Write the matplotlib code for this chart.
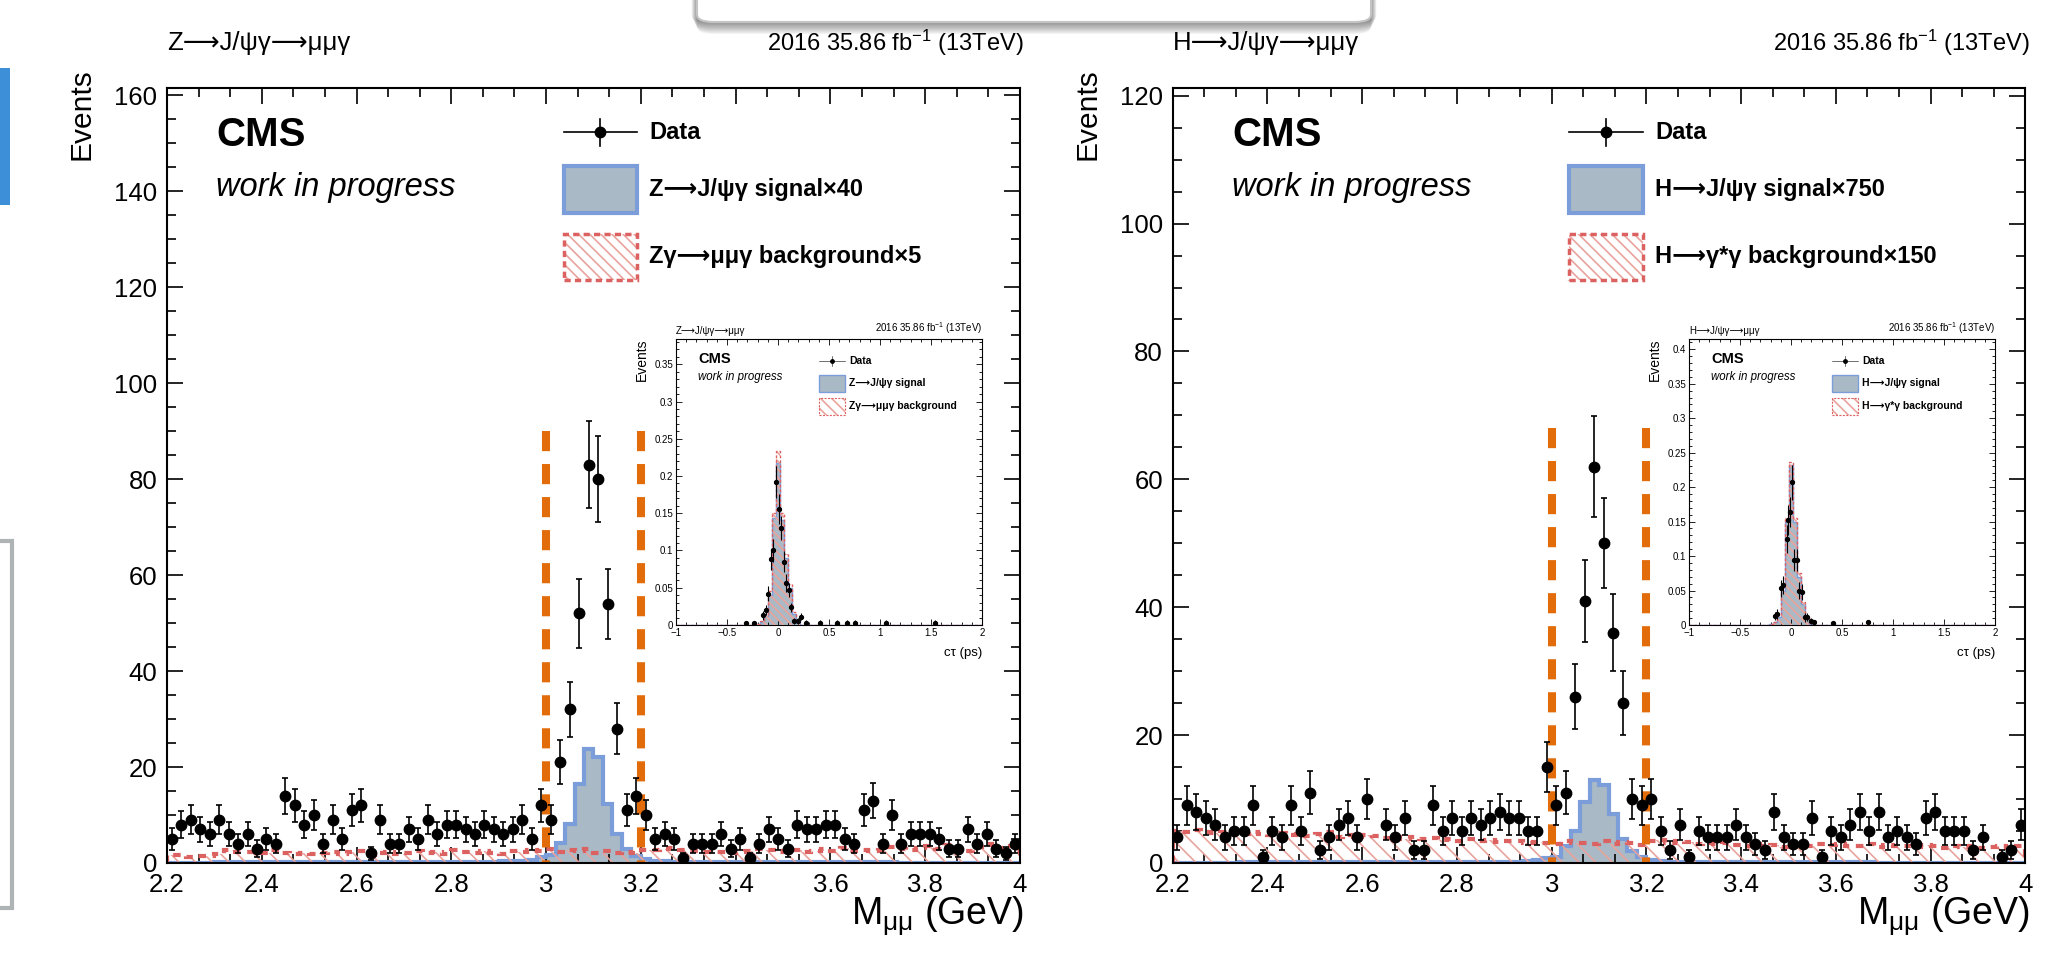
import numpy as np
import matplotlib
matplotlib.use("Agg")
import matplotlib.pyplot as plt
from matplotlib.patches import Rectangle, FancyBboxPatch
from matplotlib.ticker import MultipleLocator, AutoMinorLocator, FuncFormatter

plt.rcParams['font.family'] = ['Liberation Sans', 'DejaVu Sans']
plt.rcParams['mathtext.fontset'] = 'custom'
plt.rcParams['mathtext.rm'] = 'Liberation Sans'
plt.rcParams['mathtext.default'] = 'regular'
plt.rcParams['hatch.linewidth'] = 1.2

# mass histogram binning (GeV)
m_lo, m_hi, n_bins = 2.2, 4.0, 90
window = [3.0, 3.2]

# Z -> J/psi gamma panel
z_data = [5, 8, 9, 7, 6, 9, 6, 4, 6, 3,
          5, 4, 14, 12, 8, 10, 4, 9, 5, 11,
          12, 2, 9, 4, 4, 7, 5, 9, 6, 8,
          8, 7, 6, 8, 7, 6, 7, 9, 5, 12,
          9, 21, 32, 52, 83, 80, 54, 28, 11, 14,
          10, 5, 6, 5, 1, 4, 4, 4, 6, 3,
          5, 1, 4, 7, 5, 3, 8, 7, 7, 8,
          8, 5, 4, 11, 13, 4, 10, 4, 6, 6,
          6, 5, 3, 3, 7, 4, 6, 3, 2, 4]
z_sig = [0.08, 0.08, 0.09, 0.09, 0.09, 0.1, 0.1, 0.1, 0.1, 0.11,
         0.11, 0.11, 0.12, 0.12, 0.12, 0.12, 0.13, 0.13, 0.13, 0.14,
         0.14, 0.14, 0.15, 0.15, 0.15, 0.16, 0.16, 0.17, 0.17, 0.18,
         0.18, 0.2, 0.22, 0.25, 0.28, 0.32, 0.38, 0.5, 0.7, 1.2,
         1.6, 4.2, 8.2, 16.5, 23.8, 22.0, 12.3, 6.0, 2.9, 1.5,
         0.8, 0.5, 0.35, 0.28, 0.24, 0.2, 0.18, 0.17, 0.16, 0.15,
         0.15, 0.14, 0.14, 0.13, 0.13, 0.13, 0.12, 0.12, 0.12, 0.11,
         0.11, 0.11, 0.1, 0.1, 0.1, 0.1, 0.1, 0.09, 0.09, 0.09,
         0.09, 0.09, 0.08, 0.08, 0.08, 0.08, 0.08, 0.08, 0.07, 0.07]
z_bkg = [1.6, 1.7, 1.3, 1.4, 1.5, 1.8, 2.6, 2.3, 2.2, 2.3,
         2.0, 2.8, 2.1, 1.9, 2.0, 1.8, 2.1, 2.3, 1.9, 2.2,
         2.5, 1.7, 2.0, 2.3, 1.9, 2.1, 2.4, 2.0, 2.2, 1.9,
         2.6, 2.3, 2.0, 2.5, 2.1, 1.9, 2.4, 2.2, 2.6, 2.4,
         2.9, 2.3, 2.6, 2.4, 2.9, 2.0, 2.4, 2.1, 2.3, 2.0,
         2.6, 2.8, 2.9, 3.1, 2.6, 2.5, 2.3, 2.2, 2.3, 2.0,
         2.2, 2.5, 3.0, 2.8, 2.3, 2.4, 2.6, 2.2, 2.4, 3.0,
         2.5, 3.2, 2.4, 2.6, 2.5, 2.7, 3.3, 3.0, 2.6, 3.2,
         3.5, 3.0, 3.7, 2.8, 2.5, 3.4, 3.9, 3.2, 3.0, 3.6]

# H -> J/psi gamma panel
h_data = [4, 9, 8, 7, 6, 4, 5, 5, 9, 1,
          5, 4, 9, 5, 11, 2, 4, 6, 7, 4,
          10, 0, 6, 4, 7, 2, 2, 9, 5, 7,
          5, 7, 6, 7, 8, 7, 7, 5, 5, 15,
          9, 11, 26, 41, 62, 50, 36, 25, 10, 9,
          10, 5, 2, 6, 1, 5, 4, 4, 4, 6,
          4, 3, 2, 8, 4, 3, 3, 7, 1, 5,
          4, 6, 8, 5, 8, 4, 5, 4, 3, 7,
          8, 5, 5, 5, 2, 4, 0, 1, 2, 6]
h_sig = [0.06, 0.06, 0.06, 0.07, 0.07, 0.07, 0.07, 0.08, 0.08, 0.08,
         0.08, 0.08, 0.09, 0.09, 0.09, 0.09, 0.1, 0.1, 0.1, 0.1,
         0.1, 0.11, 0.11, 0.11, 0.11, 0.12, 0.12, 0.12, 0.13, 0.13,
         0.14, 0.14, 0.15, 0.16, 0.17, 0.19, 0.22, 0.3, 0.5, 0.7,
         1.0, 2.6, 5.0, 9.5, 13.0, 12.2, 7.6, 3.7, 1.8, 0.9,
         0.5, 0.3, 0.22, 0.18, 0.16, 0.14, 0.13, 0.12, 0.12, 0.11,
         0.11, 0.1, 0.1, 0.1, 0.1, 0.09, 0.09, 0.09, 0.09, 0.08,
         0.08, 0.08, 0.08, 0.08, 0.07, 0.07, 0.07, 0.07, 0.07, 0.07,
         0.06, 0.06, 0.06, 0.06, 0.06, 0.06, 0.06, 0.05, 0.05, 0.05]
h_bkg = [5.0, 4.8, 5.1, 4.9, 4.7, 4.8, 5.0, 4.6, 4.9, 4.5,
         4.4, 4.7, 4.3, 4.6, 4.2, 4.5, 4.8, 4.1, 4.4, 4.0,
         4.3, 4.2, 3.9, 4.0, 3.7, 4.1, 3.8, 3.9, 3.6, 3.7,
         3.5, 3.8, 3.4, 3.6, 3.3, 3.5, 3.4, 3.2, 3.3, 3.1,
         3.0, 3.4, 3.1, 3.2, 2.9, 3.5, 3.0, 3.3, 3.1, 2.8,
         3.4, 3.6, 3.2, 3.5, 3.3, 3.0, 3.2, 2.9, 3.1, 2.8,
         2.7, 3.0, 2.6, 2.8, 2.5, 2.9, 2.7, 2.6, 2.9, 2.8,
         3.0, 2.7, 2.6, 2.9, 2.5, 2.8, 2.7, 2.6, 2.5, 2.8,
         2.6, 2.4, 2.7, 2.5, 2.6, 2.3, 2.5, 2.6, 2.4, 2.7]

# inset: decay length c*tau (ps)
ct_edges = [-1.0, -0.22, -0.18, -0.14, -0.10, -0.06, -0.02, 0.02, 0.06,
            0.10, 0.14, 0.18, 0.22, 2.0]
zin_sig = [0, 0.001, 0.004, 0.012, 0.04, 0.143, 0.217, 0.141, 0.09, 0.05, 0.015, 0.003, 0]
zin_bkg = [0, 0.001, 0.005, 0.014, 0.045, 0.15, 0.233, 0.15, 0.095, 0.055, 0.018, 0.004, 0]
zin_ct = [-0.316, -0.24, -0.143, -0.12, -0.094, -0.068, -0.048, -0.019, 0.007, 0.03,
          0.06, 0.08, 0.106, 0.13, 0.158, 0.2, 0.23, 0.276, 0.41, 0.58, 0.68, 0.75,
          1.06, 1.54]
zin_val = [0.002, 0.002, 0.013, 0.02, 0.042, 0.088, 0.10, 0.192, 0.156, 0.13,
           0.085, 0.056, 0.047, 0.024, 0.005, 0.005, 0.011, 0.003, 0.003, 0.003,
           0.003, 0.003, 0.003, 0.003]
zin_err = [0.003, 0.003, 0.006, 0.007, 0.01, 0.014, 0.015, 0.022, 0.02, 0.016,
           0.014, 0.012, 0.01, 0.006, 0.004, 0.004, 0.005, 0.003, 0.003, 0.003,
           0.003, 0.003, 0.003, 0.003]
hin_sig = [0, 0.001, 0.004, 0.012, 0.05, 0.15, 0.232, 0.15, 0.07, 0.03, 0.01, 0.002, 0]
hin_bkg = [0, 0.001, 0.005, 0.014, 0.055, 0.155, 0.236, 0.155, 0.075, 0.033, 0.012, 0.003, 0]
hin_ct = [-0.157, -0.14, -0.095, -0.075, -0.042, -0.026, -0.01, 0.01, 0.033, 0.056,
          0.08, 0.105, 0.137, 0.16, 0.196, 0.222, 0.41, 0.758]
hin_val = [0.013, 0.016, 0.053, 0.058, 0.125, 0.152, 0.164, 0.207, 0.094, 0.094,
           0.05, 0.048, 0.011, 0.012, 0.006, 0.004, 0.003, 0.004]
hin_err = [0.006, 0.007, 0.012, 0.013, 0.02, 0.022, 0.022, 0.025, 0.016, 0.016,
           0.012, 0.012, 0.006, 0.006, 0.004, 0.003, 0.003, 0.003]

ARW = '\u27f6'
Z_TITLE = 'Z' + ARW + 'J/\u03c8\u03b3' + ARW + '\u03bc\u03bc\u03b3'
H_TITLE = 'H' + ARW + 'J/\u03c8\u03b3' + ARW + '\u03bc\u03bc\u03b3'
LUMI = '2016 35.86 fb$^{-1}$ (13TeV)'
SIG_FILL = '#a9b9c5'
SIG_LINE = '#7b9dda'
BKG_LINE = '#dc6161'
BKG_HATCH = '#e9a39d'
CUT = '#e26b0a'

edges = np.linspace(m_lo, m_hi, n_bins + 1)
centers = 0.5 * (edges[1:] + edges[:-1])


def fmt(v, pos):
    return ('%g' % round(v, 4)).replace('-', '\u2212')


def draw_legend(ax, x0, x1, ys, box_h, labels, fs, s):
    tr = ax.transAxes
    xm = 0.5 * (x0 + x1)
    y0, y1, y2 = ys
    ax.plot([x0, x1], [y0, y0], color='k', lw=1.2 * s, transform=tr, clip_on=False)
    ax.plot([xm, xm], [y0 - box_h * 0.29, y0 + box_h * 0.29], color='k', lw=1.2 * s,
            transform=tr, clip_on=False)
    ax.plot([xm], [y0], 'o', color='k', ms=7.5 * s, transform=tr, clip_on=False)
    ax.add_patch(Rectangle((x0, y1 - box_h / 2), x1 - x0, box_h, transform=tr,
                           fc=SIG_FILL, ec=SIG_LINE, lw=3 * s))
    ax.add_patch(Rectangle((x0, y2 - box_h / 2), x1 - x0, box_h, transform=tr,
                           fc='none', ec=BKG_HATCH, hatch='\\\\\\', lw=0))
    ax.add_patch(Rectangle((x0, y2 - box_h / 2), x1 - x0, box_h, transform=tr,
                           fill=False, ec=BKG_LINE, lw=2.5 * s, ls=(0, (1.8, 1.2))))
    xt = x1 + 0.17 * (x1 - x0)
    for y, lab in zip(ys, labels):
        ax.text(xt, y, lab, transform=tr, fontsize=fs, fontweight='bold', va='center')


def draw_main(ax, counts, sig, bkg, ytop, cut_top, title, labels, cms_x):
    counts = np.asarray(counts, float)
    ax.stairs(sig, edges, fill=True, facecolor=SIG_FILL, lw=0, zorder=1)
    ax.stairs(sig, edges, color=SIG_LINE, lw=3, zorder=2)
    ax.stairs(bkg, edges, fill=True, facecolor='none', edgecolor=BKG_HATCH,
              hatch='\\\\', lw=0, zorder=3)
    ax.stairs(bkg, edges, color=BKG_LINE, lw=3, ls=(0, (1.8, 1.6)), zorder=4)
    for w in window:
        ax.plot([w, w], [cut_top, 0], color=CUT, lw=5.8, ls=(0, (2.5, 1.6)), zorder=5)
    m = counts > 0
    ax.errorbar(centers[m], counts[m], yerr=np.sqrt(counts[m]), fmt='o', color='k',
                ms=7.5, elinewidth=1.2, capsize=2.3, capthick=1.2, zorder=6)
    ax.set_xlim(m_lo, m_hi)
    ax.set_ylim(0, ytop)
    ax.xaxis.set_major_locator(MultipleLocator(0.2))
    ax.xaxis.set_minor_locator(AutoMinorLocator(3))
    ax.yaxis.set_major_locator(MultipleLocator(20))
    ax.yaxis.set_minor_locator(AutoMinorLocator(4))
    ax.xaxis.set_major_formatter(FuncFormatter(fmt))
    ax.yaxis.set_major_formatter(FuncFormatter(fmt))
    ax.tick_params(which='both', direction='in', top=True, right=True,
                   labelsize=18.5, width=1.2, pad=7)
    ax.tick_params(which='major', length=11.5)
    ax.tick_params(which='minor', length=6.5)
    for sp in ax.spines.values():
        sp.set_linewidth(1.5)
        sp.set_zorder(7)
    ax.text(0, 1.058, title, transform=ax.transAxes, fontsize=18.5, va='center')
    ax.text(1.005, 1.058, LUMI, transform=ax.transAxes, fontsize=17, va='center', ha='right')
    ax.text(-0.1, 1.026, 'Events', transform=ax.transAxes, fontsize=21.5, rotation=90,
            ha='center', va='top')
    ax.text(1.005, -0.069, 'M$_{\u03bc\u03bc}$ (GeV)', transform=ax.transAxes,
            fontsize=27, ha='right', va='center')
    ax.text(cms_x, 0.939, 'CMS', transform=ax.transAxes, fontsize=29,
            fontweight='bold', va='center')
    ax.text(cms_x, 0.872, 'work in progress', transform=ax.transAxes, fontsize=23.5,
            style='italic', va='center')
    draw_legend(ax, 0.465, 0.551, (0.943, 0.869, 0.782), 0.06, labels, 17, 1.0)


def draw_inset(ax, sig, bkg, ct, val, err, ytop, title, labels):
    ax.stairs(sig, ct_edges, fill=True, facecolor=SIG_FILL, lw=0, zorder=1)
    ax.stairs(sig, ct_edges, color=SIG_LINE, lw=1.0, zorder=2)
    ax.stairs(bkg, ct_edges, fill=True, facecolor='none', edgecolor=BKG_HATCH,
              hatch='\\\\\\\\', lw=0, zorder=3)
    ax.stairs(bkg, ct_edges, color=BKG_LINE, lw=1.0, ls=(0, (2, 1.5)), zorder=4)
    ax.errorbar(ct, val, yerr=err, fmt='o', color='k', ms=2.8, elinewidth=0.8,
                capsize=0, zorder=6)
    ax.set_xlim(-1, 2)
    ax.set_ylim(0, ytop)
    ax.xaxis.set_major_locator(MultipleLocator(0.5))
    ax.xaxis.set_minor_locator(AutoMinorLocator(5))
    ax.yaxis.set_major_locator(MultipleLocator(0.05))
    ax.yaxis.set_minor_locator(AutoMinorLocator(5))
    ax.xaxis.set_major_formatter(FuncFormatter(fmt))
    ax.yaxis.set_major_formatter(FuncFormatter(fmt))
    ax.tick_params(which='both', direction='in', top=True, right=True,
                   labelsize=7, width=0.6, pad=2)
    ax.tick_params(which='major', length=4)
    ax.tick_params(which='minor', length=2)
    for sp in ax.spines.values():
        sp.set_linewidth(0.8)
    ax.text(0, 1.012, title, transform=ax.transAxes, fontsize=7, va='bottom')
    ax.text(1, 1.012, LUMI, transform=ax.transAxes, fontsize=7, va='bottom', ha='right')
    ax.text(-0.112, 1.0, 'Events', transform=ax.transAxes, fontsize=10, rotation=90,
            ha='center', va='top')
    ax.text(1.0, -0.098, 'c\u03c4 (ps)', transform=ax.transAxes, fontsize=9.5,
            ha='right', va='center')
    ax.text(0.072, 0.93, 'CMS', transform=ax.transAxes, fontsize=10.5,
            fontweight='bold', va='center')
    ax.text(0.072, 0.867, 'work in progress', transform=ax.transAxes, fontsize=8.3,
            style='italic', va='center')
    draw_legend(ax, 0.467, 0.552, (0.923, 0.845, 0.764), 0.06, labels, 7.5, 0.33)


fig = plt.figure(figsize=(20.51, 9.64), dpi=100)

ax1 = fig.add_axes([0.0814, 0.1048, 0.4159, 0.8039])
ax2 = fig.add_axes([0.5718, 0.1048, 0.4157, 0.8039])
in1 = fig.add_axes([0.3296, 0.3517, 0.1492, 0.2967])
in2 = fig.add_axes([0.8235, 0.3517, 0.1492, 0.2967])

draw_main(ax1, z_data, z_sig, z_bkg, 161.5, 90, Z_TITLE,
          ['Data', 'Z' + ARW + 'J/\u03c8\u03b3 signal\u00d740',
           'Z\u03b3' + ARW + '\u03bc\u03bc\u03b3 background\u00d75'], 0.058)
draw_main(ax2, h_data, h_sig, h_bkg, 121.2, 68, H_TITLE,
          ['Data', 'H' + ARW + 'J/\u03c8\u03b3 signal\u00d7750',
           'H' + ARW + '\u03b3*\u03b3 background\u00d7150'], 0.07)
draw_inset(in1, zin_sig, zin_bkg, zin_ct, zin_val, zin_err, 0.384, Z_TITLE,
           ['Data', 'Z' + ARW + 'J/\u03c8\u03b3 signal',
            'Z\u03b3' + ARW + '\u03bc\u03bc\u03b3 background'])
draw_inset(in2, hin_sig, hin_bkg, hin_ct, hin_val, hin_err, 0.415, H_TITLE,
           ['Data', 'H' + ARW + 'J/\u03c8\u03b3 signal',
            'H' + ARW + '\u03b3*\u03b3 background'])

# slide decorations around the plots
W, H = 2051.0, 964.0
for k in range(10):
    fig.add_artist(FancyBboxPatch((697 / W - k * 0.6 / W, 1 - (34 - k * 1.3) / H),
                                  (674 + k * 1.2) / W, 60 / H,
                                  boxstyle='round,pad=0,rounding_size=0.008',
                                  transform=fig.transFigure, fc='#000000', ec='none',
                                  alpha=0.05))
fig.add_artist(FancyBboxPatch((697 / W, 1 - 22 / H), 674 / W, 60 / H,
                              boxstyle='round,pad=0,rounding_size=0.008',
                              transform=fig.transFigure, fc='white', ec='#c4c4c4', lw=1.5))
fig.add_artist(Rectangle((0, 1 - 205 / H), 10 / W, 137 / H, transform=fig.transFigure,
                         fc='#3d8fd8', ec='none'))
fig.add_artist(Rectangle((-10 / W, 1 - 908 / H), 22 / W, 367 / H, transform=fig.transFigure,
                         fill=False, ec='#aeb3b3', lw=3))

fig.savefig('out.png', dpi=100)
